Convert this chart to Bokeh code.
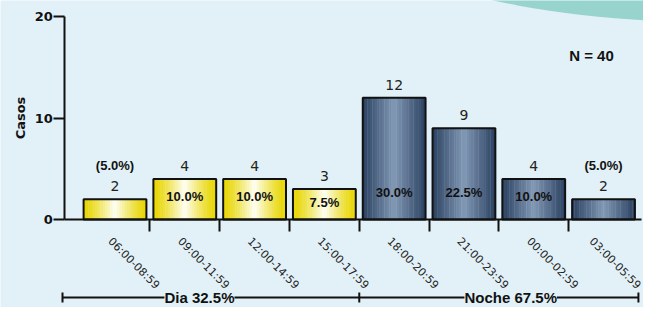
import math
from bokeh.plotting import figure
from bokeh.models import Range1d, FixedTicker, Label
from bokeh.core.properties import value
from bokeh.embed import file_html
from bokeh.resources import INLINE

# ---------------- data ----------------
categories = ["06:00-08:59", "09:00-11:59", "12:00-14:59", "15:00-17:59",
              "18:00-20:59", "21:00-23:59", "00:00-02:59", "03:00-05:59"]
counts = [2, 4, 4, 3, 12, 9, 4, 2]
periods = ["Dia", "Dia", "Dia", "Dia", "Noche", "Noche", "Noche", "Noche"]
period_names = ["Dia", "Noche"]
y_ticks = [0, 10, 20]

N = sum(counts)

# ---------------- layout helpers ----------------
BG = "#E2F1F7"
W, H = 643, 307
X0, PXX = 114.5, 69.79      # screen px of category 0, px per category
Y0, PXY = 219.0, 10.15      # screen px of value 0, px per case


def xd(px):
    return (px - X0) / PXX


def yd(py):
    return (Y0 - py) / PXY


YAXIS_X = xd(64.3)
LABEL_SHIFT = 5 / PXX

p = figure(width=W, height=H, output_backend="svg", toolbar_location=None, title=None,
           x_range=Range1d(xd(0), xd(W)), y_range=Range1d(yd(H), yd(0)),
           min_border=0, background_fill_color=BG, border_fill_color=BG,
           outline_line_color=None)
p.xgrid.visible = False
p.ygrid.visible = False

# decorative arc at top-right
p.ellipse(x=[xd(720)], y=[yd(-78)], width=726 / PXX, height=200 / PXY,
          fill_color="#97D4CE", line_color=None)

# ---------------- gradient bars ----------------
STYLE = {
    "Dia": ((232, 214, 0), (255, 255, 246), 1.35),
    "Noche": ((42, 64, 96), (130, 153, 181), 1.0),
}
S = 26
BW = 0.9
gx, gtop, gcol = [], [], []
for i, (c, per) in enumerate(zip(counts, periods)):
    edge, center, pw = STYLE[per]
    for k in range(S):
        t = -1 + (2 * k + 1) / S
        f = (1 - abs(t)) ** pw
        rgb = tuple(int(round(e + (cc - e) * f)) for e, cc in zip(edge, center))
        gx.append(i - BW / 2 + (k + 0.5) * BW / S)
        gtop.append(c)
        gcol.append("#%02x%02x%02x" % rgb)
p.vbar(x=gx, top=gtop, bottom=0, width=BW / S * 1.15, fill_color=gcol, line_color=None)
p.vbar(x=list(range(len(counts))), top=counts, bottom=0, width=BW,
       fill_color=None, line_color="#111111", line_width=2)

# ---------------- labels on bars ----------------
idx = list(range(len(counts)))
p.text(x=idx, y=[c + 1.3 for c in counts], text=[str(c) for c in counts],
       text_font=value("DejaVu Sans"), text_font_size="14px", text_color="#222222",
       text_align="center", text_baseline="middle")

pct = ["%.1f%%" % (c / N * 100) for c in counts]
in_x = [i for i, c in enumerate(counts) if c >= 3]
in_y = [min(0.57 * counts[i], 2.65) for i in in_x]
in_t = [pct[i] for i in in_x]
out_x = [i for i, c in enumerate(counts) if c < 3]
out_y = [counts[i] + 3.3 for i in out_x]
out_t = ["(%s)" % pct[i] for i in out_x]
for xs, ys, ts in ((in_x, in_y, in_t), (out_x, out_y, out_t)):
    p.text(x=xs, y=ys, text=ts, text_font=value("Liberation Sans"), text_font_style="bold",
           text_font_size="13px", text_color="#111111", text_align="center",
           text_baseline="middle")

p.text(x=[xd(591)], y=[yd(55)], text=["N = %d" % N], text_font=value("Liberation Sans"),
       text_font_style="bold", text_font_size="15px", text_color="#111111",
       text_align="center", text_baseline="middle")

# ---------------- period bracket ----------------
YB = yd(297)
TK = 5 / PXY
edges = [xd(62)]
for name in period_names:
    last = max(i for i, per in enumerate(periods) if per == name)
    edges.append(last + 0.5)
p.segment(x0=[edges[0]], y0=[YB], x1=[edges[-1]], y1=[YB], line_color="#111111", line_width=2)
p.segment(x0=edges, y0=[YB - TK] * len(edges), x1=edges, y1=[YB + TK] * len(edges),
          line_color="#111111", line_width=2)
bracket_label_x = [1.21, 5.67]
for name, lx in zip(period_names, bracket_label_x):
    share = sum(c for c, per in zip(counts, periods) if per == name) / N * 100
    p.add_layout(Label(x=lx, y=YB, text="%s %.1f%%" % (name, share),
                       text_font="Liberation Sans", text_font_style="bold",
                       text_font_size="15px", text_color="#111111",
                       text_align="center", text_baseline="middle",
                       background_fill_color=BG))

# ---------------- axes ----------------
yax = p.yaxis[0]
yax.fixed_location = YAXIS_X
yax.bounds = (0, 20)
yax.ticker = FixedTicker(ticks=y_ticks)
yax.axis_line_width = 2
yax.axis_line_color = "#111111"
yax.major_tick_out = 11
yax.major_tick_in = 0
yax.major_tick_line_width = 2
yax.major_tick_line_color = "#111111"
yax.minor_tick_line_color = None
yax.major_label_text_font = "DejaVu Sans"
yax.major_label_text_font_style = "bold"
yax.major_label_text_font_size = "13px"
yax.major_label_text_color = "#111111"
yax.major_label_standoff = 1
yax.axis_label = "Casos"
yax.axis_label_text_font = "DejaVu Sans"
yax.axis_label_text_font_style = "bold"
yax.axis_label_text_font_size = "13px"
yax.axis_label_text_color = "#111111"
yax.axis_label_standoff = 3

label_ticks = [i - LABEL_SHIFT for i in idx]
xax = p.xaxis[0]
xax.fixed_location = 0
xax.bounds = (YAXIS_X, xd(641))
xax.ticker = FixedTicker(ticks=label_ticks, minor_ticks=[i + 0.5 for i in idx[:-1]])
xax.major_label_overrides = {t: c for t, c in zip(label_ticks, categories)}
xax.major_label_orientation = -math.pi / 4
xax.axis_line_width = 2
xax.axis_line_color = "#111111"
xax.major_tick_line_color = None
xax.major_tick_out = 0
xax.major_tick_in = 0
xax.minor_tick_out = 12
xax.minor_tick_in = 0
xax.minor_tick_line_width = 2
xax.minor_tick_line_color = "#111111"
xax.major_label_standoff = 8
xax.major_label_text_font = "DejaVu Sans"
xax.major_label_text_font_size = "11px"
xax.major_label_text_color = "#222222"

open("out.html", "w").write(file_html(p, INLINE))
